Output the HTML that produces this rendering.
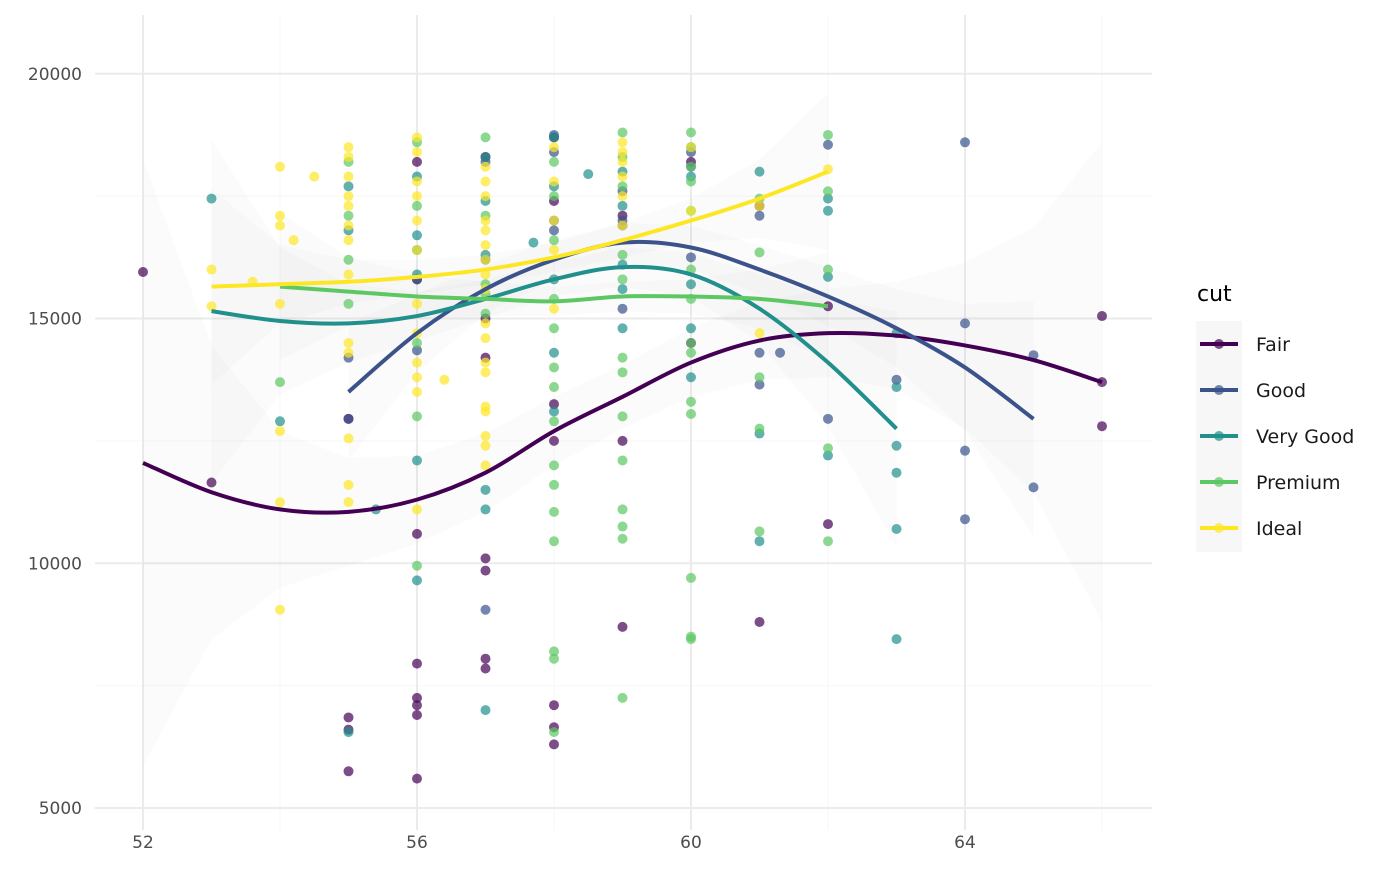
<!DOCTYPE html>
<html><head><meta charset="utf-8"><style>
body{margin:0;background:#fff}
svg{font-family:"DejaVu Sans","Liberation Sans",sans-serif}
</style></head><body>
<svg id="chart" width="1400" height="866" xmlns="http://www.w3.org/2000/svg">
<rect width="1400" height="866" fill="#fff"/>
<g id="grid"></g>
<g id="bands"></g>
<g id="points"></g>
<g id="lines"></g>
<g id="axes"></g>
<g id="legend"></g>
</svg>
<script>
const cuts=["Fair","Good","Very Good","Premium","Ideal"];
const colors=["#440154","#3b528b","#21908c","#5dc863","#fde725"];
const xTicks=[52,56,60,64];
const yTicks=[5000,10000,15000,20000];
const fairX=[52,53,54,55,56,57,58,59,60,61,62,63,64,65,66];
const fairY=[12050,11450,11100,11050,11300,11850,12700,13400,14100,14550,14700,14650,14450,14150,13700];
const fairSE=[6200,3000,1600,1100,900,800,700,650,700,800,900,1100,1700,2700,4900];
const goodX=[55,56,57,58,59,60,61,62,63,64,65];
const goodY=[13500,14700,15600,16200,16550,16450,16000,15450,14800,14000,12950];
const goodSE=[1400,800,500,400,400,450,500,600,800,1300,2400];
const vgX=[53,54,55,56,57,58,59,60,61,62,63];
const vgY=[15150,14950,14900,15050,15400,15800,16050,15900,15200,14100,12750];
const vgSE=[3500,1500,800,500,400,350,400,450,700,1300,2400];
const prX=[54,55,56,57,58,59,60,61,62];
const prY=[15650,15550,15450,15400,15350,15450,15450,15400,15250];
const prSE=[1500,700,450,350,300,300,350,600,1100];
const idX=[53,54,55,56,57,58,59,60,61,62];
const idY=[15650,15700,15750,15850,16000,16250,16600,17000,17450,18000];
const idSE=[2000,800,450,350,300,300,350,450,800,1600];
const fairPts=[[52,15950],[53,11650],[55,6850],[55,6600],[55,5750],[55,12950],[56,10600],[56,7950],[56,7250],[56,7100],[56,6900],[56,5600],[56,18200],[56,15800],[57,10100],[57,9850],[57,8050],[57,7850],[57,18300],[57,15000],[57,14200],[58,17400],[58,13250],[58,12500],[58,7100],[58,6650],[58,6300],[58,18700],[59,12500],[59,8700],[59,17100],[60,18200],[60,14500],[61,8800],[61,17300],[62,10800],[62,15250],[66,15050],[66,13700],[66,12800]];
const goodPts=[[55,14200],[55,12950],[56,15800],[56,14350],[57,9050],[57,16200],[58,18750],[58,18400],[58,17000],[59,17000],[59,15200],[60,16250],[60,18100],[61,14300],[61,13650],[61,17100],[61.3,14300],[62,18550],[62,12950],[63,13750],[64,18600],[64,14900],[64,12300],[64,10900],[65,14250],[65,11550],[57,18200],[58,16800],[59,16900],[59,17600],[60,18400]];
const vgPts=[[53,17450],[54,12900],[55,17700],[55,16800],[55,6550],[55.4,11100],[56,16700],[56,15900],[56,12100],[56,9650],[56,17900],[57,11500],[57,11100],[57,7000],[57,18300],[57,16300],[57.7,16550],[58,13100],[58,18700],[58,15800],[58.5,17950],[59,14800],[59,16100],[59,18000],[60,14800],[60,13800],[60,18500],[61,12650],[61,10450],[61,18000],[62,17200],[62,15850],[62,12200],[62,17450],[63,14700],[63,13600],[63,12400],[63,11850],[63,10700],[63,8450],[56,16400],[57,17400],[58,17700],[58,14300],[59,17300],[59,15600],[60,15700],[60,17900]];
const prPts=[[54,13700],[55,18200],[55,16200],[55,15300],[56,13000],[56,9950],[56,14500],[56,18600],[57,18700],[57,15100],[57,15500],[58,14800],[58,14000],[58,12000],[58,11600],[58,11050],[58,10450],[58,8200],[58,8050],[58,6550],[58,16600],[58,17500],[59,13000],[59,12100],[59,11100],[59,10750],[59,10500],[59,7250],[59,18800],[59,16300],[59,14200],[60,13300],[60,13050],[60,9700],[60,8500],[60,8450],[60,18800],[60,17800],[60,14500],[61,16350],[61,13800],[61,12750],[61,10650],[61,17450],[62,16000],[62,12350],[62,10450],[62,18750],[62,17600],[58,15400],[58,13600],[58,12900],[59,15800],[59,13900],[59,18300],[60,16000],[60,17200],[60,14300],[60,18100],[57,17100],[57,15700],[56,17300],[55,17100],[58,18200],[59,17700],[60,15400]];
const idPts=[[53,16000],[53,15250],[53.6,15750],[54,18100],[54,17100],[54,16900],[54,15300],[54,12700],[54,11250],[54,9050],[54.2,16600],[54.5,17900],[55,18500],[55,17500],[55,16600],[55,14500],[55,12550],[55,11600],[55,11250],[56,18700],[56,17800],[56,17000],[56,16400],[56,14100],[56,13500],[56,11100],[56.4,13750],[57,17500],[57,17000],[57,16500],[57,15900],[57,14900],[57,13900],[57,13200],[57,12600],[57,12000],[58,18500],[58,17000],[58,15200],[59,18600],[59,18200],[59,17500],[60,17200],[60,18500],[61,14700],[61,17300],[62,18050],[55,18300],[55,17900],[55,16900],[55,14300],[56,18400],[56,17500],[56,15300],[56,14700],[56,13800],[57,18100],[57,17800],[57,16800],[57,16200],[57,15600],[57,14600],[57,14100],[57,12400],[57,13100],[58,17800],[58,16400],[59,18400],[59,17900],[59,16900],[55,15900],[55,17300]];
const allPts=[fairPts,goodPts,vgPts,prPts,idPts];
const lineX=[fairX,goodX,vgX,prX,idX], lineY=[fairY,goodY,vgY,prY,idY], lineSE=[fairSE,goodSE,vgSE,prSE,idSE];

const NS="http://www.w3.org/2000/svg";
const sx=v=>143+(v-52)*68.5;
const sy=v=>808-(v-5000)*0.04895;
function mk(tag,attrs,parent){const e=document.createElementNS(NS,tag);for(const k in attrs)e.setAttribute(k,attrs[k]);parent.appendChild(e);return e;}
function smooth(pts){let d="M"+pts[0][0]+","+pts[0][1];for(let i=0;i<pts.length-1;i++){const p0=pts[Math.max(i-1,0)],p1=pts[i],p2=pts[i+1],p3=pts[Math.min(i+2,pts.length-1)];d+=" C"+(p1[0]+(p2[0]-p0[0])/6)+","+(p1[1]+(p2[1]-p0[1])/6)+" "+(p2[0]-(p3[0]-p1[0])/6)+","+(p2[1]-(p3[1]-p1[1])/6)+" "+p2[0]+","+p2[1];}return d;}
const grid=document.getElementById('grid');
[54,58,62,66].forEach(t=>{const l=mk('line',{x1:sx(t),x2:sx(t),y1:15,y2:830,stroke:'#f7f7f7','stroke-width':1},grid);});
[7500,12500,17500].forEach(t=>{const l=mk('line',{x1:95,x2:1152,y1:sy(t),y2:sy(t),stroke:'#f7f7f7','stroke-width':1},grid);});
xTicks.forEach(t=>{const l=mk('line',{x1:sx(t),x2:sx(t),y1:15,y2:830,stroke:'#ebebeb','stroke-width':2},grid);});
yTicks.forEach(t=>{const l=mk('line',{x1:95,x2:1152,y1:sy(t),y2:sy(t),stroke:'#ebebeb','stroke-width':2},grid);});
const axes=document.getElementById('axes');
xTicks.forEach(t=>{const e=mk('text',{x:sx(t),y:848,'text-anchor':'middle','font-size':17,fill:'#4d4d4d'},axes);e.textContent=t;});
yTicks.forEach(t=>{const e=mk('text',{x:82,y:sy(t)+6,'text-anchor':'end','font-size':17,fill:'#4d4d4d'},axes);e.textContent=t;});
const bands=document.getElementById('bands'),pg=document.getElementById('points'),lg=document.getElementById('lines');
for(let c=0;c<5;c++){
  const up=lineX[c].map((x,i)=>[sx(x),sy(lineY[c][i]+lineSE[c][i])]);
  const lo=lineX[c].map((x,i)=>[sx(x),sy(lineY[c][i]-lineSE[c][i])]).reverse();
  const p=mk('polygon',{points:up.concat(lo).map(q=>q.join(',')).join(' '),fill:'#999','fill-opacity':0.045},bands);
  
}
for(let c=0;c<5;c++){
  allPts[c].forEach(q=>{const e=mk('circle',{cx:sx(q[0]),cy:sy(q[1]),r:5,fill:colors[c],'fill-opacity':0.7},pg);});
}
for(let c=0;c<5;c++){
  const pts=lineX[c].map((x,i)=>[sx(x),sy(lineY[c][i])]);
  const e=mk('path',{d:smooth(pts),fill:'none',stroke:colors[c],'stroke-width':4},lg);
  
}
const leg=document.getElementById('legend');
const tt=mk('text',{x:1197,y:301,'font-size':22,fill:'#000'},leg);tt.textContent='cut';
const bg=mk('rect',{x:1196,y:321,width:46,height:231,fill:'#f7f7f7'},leg);
cuts.forEach((n,i)=>{const y=344+i*46;const g=mk('g',{},leg);
mk('line',{x1:1200,x2:1238,y1:y,y2:y,stroke:colors[i],'stroke-width':4},g);
mk('circle',{cx:1219,cy:y,r:5,fill:colors[i],'fill-opacity':0.7},g);
const t=mk('text',{x:1256,y:y+7,'font-size':19,fill:'#1a1a1a'},g);t.textContent=n;});
</script>
</body></html>
